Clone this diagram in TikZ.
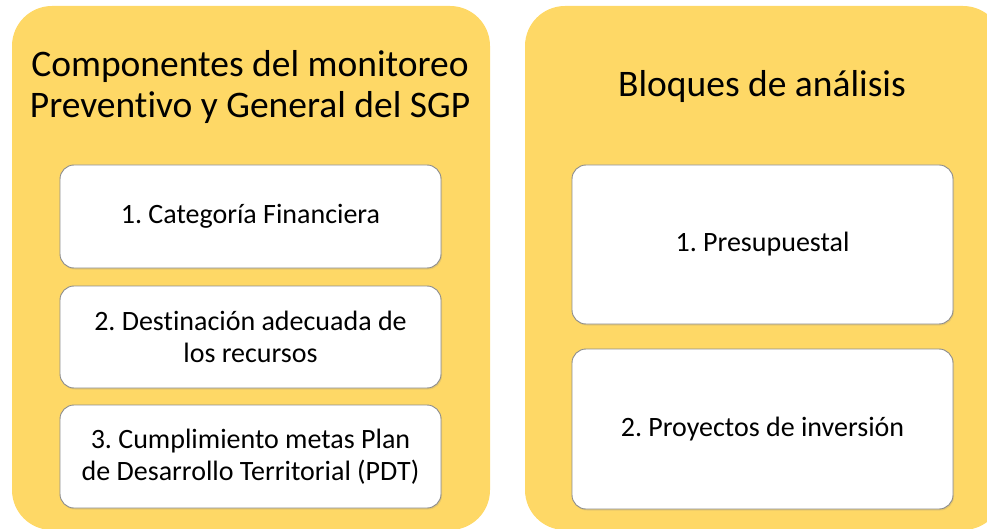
\documentclass[tikz,border=0pt]{standalone}
\usepackage{fontspec}
\setmainfont{Carlito}[Ligatures={NoCommon}]
\frenchspacing
\usetikzlibrary{shadows}
\definecolor{panelyellow}{RGB}{254,216,102}
\definecolor{boxborder}{RGB}{140,140,140}
\begin{document}
\begin{tikzpicture}[x=1pt,y=-1pt,
  panel/.style={fill=panelyellow, draw=none, rounded corners=40pt, inner sep=0pt},
  itembox/.style={fill=white, draw=boxborder, line width=0.9pt, rounded corners=14pt, inner sep=0pt,
    minimum width=381pt, align=center, font=\fontsize{28}{32}\selectfont\frenchspacing,
    drop shadow={opacity=0.18, shadow xshift=1pt, shadow yshift=-1.5pt}},
  titletext/.style={align=center, font=\fontsize{37.5}{41}\selectfont, inner sep=0pt}]
\useasboundingbox (0,0) rectangle (987,529);
\begin{scope}
\clip (0,0) rectangle (987,529);
\node[panel, minimum width=478pt, minimum height=524pt] (lp) at (251,268) {};
\node[panel, minimum width=478pt, minimum height=524pt] (rp) at (764,268) {};
\end{scope}
\node[titletext] (lt) at (250,87) {Componentes del monitoreo\\Preventivo y General del SGP};
\node[titletext] (rt) at (762,87) {Bloques de análisis};
\node[itembox, minimum height=103pt] (l1) at (250.5,216.5) {1. Categoría Financiera};
\node[itembox, minimum height=102pt] (l2) at (250.5,337) {2. Destinación adecuada de\\los recursos};
\node[itembox, minimum height=103pt] (l3) at (250.5,456.5) {3. Cumplimiento metas Plan\\de Desarrollo Territorial (PDT)};
\node[itembox, minimum height=159pt] (r1) at (762.5,244.5) {1. Presupuestal};
\node[itembox, minimum height=160pt] (r2) at (762.5,429) {2. Proyectos de inversión};
\end{tikzpicture}
\end{document}
